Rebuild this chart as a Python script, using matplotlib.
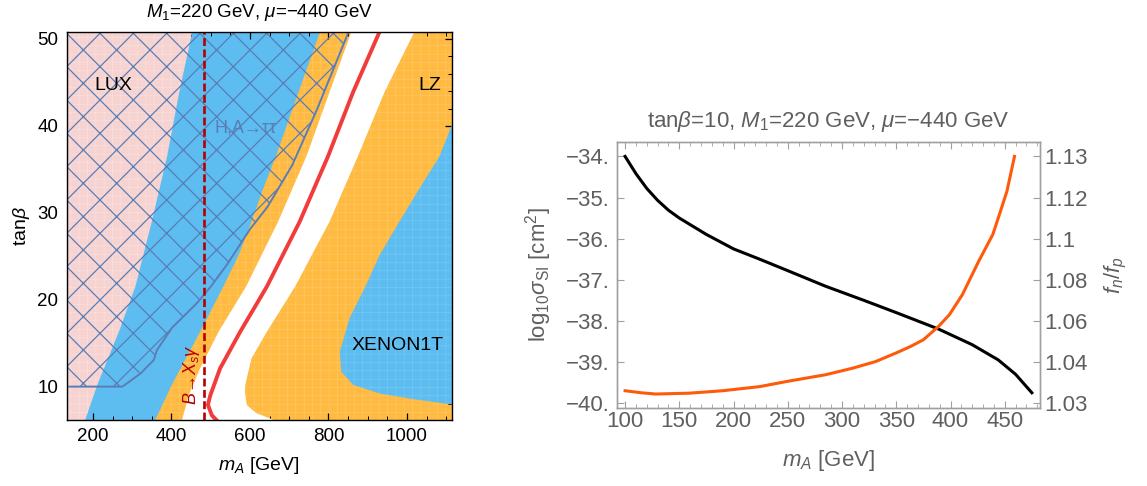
import numpy as np
import matplotlib
matplotlib.use("Agg")
import matplotlib.pyplot as plt
from matplotlib.ticker import MultipleLocator, FixedLocator

plt.rcParams["font.family"] = ["Liberation Sans", "DejaVu Sans"]
plt.rcParams["mathtext.fontset"] = "custom"
plt.rcParams["mathtext.rm"] = "Liberation Sans"
plt.rcParams["mathtext.it"] = "Liberation Sans:italic"
plt.rcParams["mathtext.bf"] = "Liberation Sans:bold"

# ---- left panel: region boundaries in the (m_A [GeV], tan beta) plane ----
luxTanb = [6.0, 10.2, 16.3, 21.5, 29.0, 36.5, 43.9, 51.0]
luxMa = [179, 211, 266, 308, 350, 389, 420, 454]

orangeLeftTanb = [6.0, 10.2, 16.3, 21.5, 25.1, 29.0, 32.8, 36.5, 43.9, 51.0]
orangeLeftMa = [357, 401, 473, 532, 571, 604, 634, 666, 724, 780]

whiteLeftTanb = [6.0, 9.0, 12.1, 16.3, 21.5, 29.0, 36.5, 43.9, 51.0]
whiteLeftMa = [426, 444, 473, 520, 590, 672, 744, 803, 860]

whiteRightTanb = [6.0, 6.35, 6.93, 7.88, 9.4, 10.2, 13.25, 16.3, 21.5, 29.0, 36.5, 43.9, 51.0]
whiteRightMa = [668, 651, 617, 592, 587, 588, 604, 643, 715, 803, 875, 943, 1021]

relicTanb = [6.0, 6.7, 7.9, 9.0, 12.1, 16.3, 21.5, 29.0, 36.5, 43.9, 51.0]
relicMa = [518, 503, 493, 499, 524, 575, 643, 727, 799, 863, 932]

xenonTanb = [7.6, 7.88, 8.57, 9.22, 10.2, 11.7, 14.0, 17.9, 21.5, 25.1, 29.0, 32.8, 36.5, 40.5, 43.0]
xenonMa = [1170, 1125, 1015, 930, 863, 833, 829, 854, 894, 930, 981, 1032, 1083, 1118, 1160]

hatchTanb = [10, 10, 11.5, 13.06, 14.2, 16.8, 19.6, 21.5, 24.0, 28.1, 30.7, 35.5, 41.8, 51.0]
hatchMa = [100, 275, 321, 355, 363, 402, 465, 500, 541, 600, 645, 708, 770, 853]

bsgMa = 484

# ---- right panel: tan beta = 10 slice ----
sigmaMa = [100, 110, 120, 130, 140, 150, 175, 200, 224, 250, 285, 320, 350, 389, 420,
           444, 460, 475]
logSigma = [-34.0, -34.42, -34.78, -35.07, -35.31, -35.5, -35.9, -36.25, -36.5, -36.78,
            -37.16, -37.5, -37.8, -38.2, -38.58, -38.95, -39.3, -39.75]

ratioMa = [100, 115, 128, 159, 190, 224, 250, 285, 310, 331, 350, 363, 375, 389, 399,
           411, 426, 439, 444, 452, 459]
fnOverFp = [1.033, 1.0325, 1.0322, 1.0324, 1.033, 1.034, 1.0353, 1.0369, 1.0385, 1.0402,
            1.0444, 1.0475, 1.0508, 1.0573, 1.063, 1.0728, 1.089, 1.102, 1.11, 1.1215, 1.13]

# right axis labels sit at the left-axis tick heights
leftTicks = [-40, -39, -38, -37, -36, -35, -34]
rightTickVals = [1.03, 1.04, 1.06, 1.08, 1.1, 1.12, 1.13]
rightTickLabels = ["1.03", "1.04", "1.06", "1.08", "1.1", "1.12", "1.13"]

pinkCol = "#f6d3d0"
blueCol = "#5dbdf0"
orangeCol = "#ffba42"
hatchCol = "#5b7db6"
relicCol = "#f23c3c"
bsgCol = "#b30000"
greyText = "#5f5f5f"
greyFrame = "#a0a0a0"


def addTexture(patch, colour):
    # faint mesh texture seen in the filled regions
    patch.set_hatch("++")
    patch.set_edgecolor(colour)
    patch.set_linewidth(0)
    if hasattr(patch, "set_hatch_linewidth"):
        patch.set_hatch_linewidth(0.4)


def drawLeft(ax):
    ax.set_facecolor(blueCol)

    orange = ax.fill_betweenx(orangeLeftTanb, orangeLeftMa, 1300, color=orangeCol, lw=0, zorder=1)
    xenon = ax.fill_betweenx(xenonTanb, xenonMa, 1300, color=blueCol, lw=0, zorder=2)
    ax.fill(whiteLeftMa + whiteRightMa[::-1], whiteLeftTanb + whiteRightTanb[::-1],
            color="white", lw=0, zorder=3)
    pink = ax.fill_betweenx(luxTanb, 0, luxMa, color=pinkCol, lw=0, zorder=3)
    addTexture(orange, (1, 1, 1, 0.22))
    addTexture(xenon, (1, 1, 1, 0.18))
    addTexture(pink, (1, 1, 1, 0.35))

    with plt.rc_context({"hatch.linewidth": 0.9}):
        hatched = ax.fill_betweenx(hatchTanb, 0, hatchMa, facecolor="none",
                                   edgecolor=hatchCol, hatch="x", lw=0, zorder=4)
        if hasattr(hatched, "set_hatch_linewidth"):
            hatched.set_hatch_linewidth(0.9)
    ax.plot(hatchMa, hatchTanb, color=hatchCol, lw=1.4, zorder=5)

    ax.plot(relicMa, relicTanb, color=relicCol, lw=2.8, zorder=6, solid_capstyle="butt")
    ax.axvline(bsgMa, color=bsgCol, lw=1.9, dashes=(3, 1.3), zorder=7)

    ax.text(251, 44.13, "LUX", fontsize=14, ha="center", va="baseline", zorder=8)
    ax.text(1058, 44.13, "LZ", fontsize=14, ha="center", va="baseline", zorder=8)
    ax.text(977, 14.2, "XENON1T", fontsize=14, ha="center", va="baseline", zorder=8)
    ax.text(588, 39.22, "H,A→ττ", fontsize=13, color=hatchCol, ha="center",
            va="baseline", zorder=8)
    ax.text(452, 11.33, "B→X$_s$γ", fontsize=13, color=bsgCol, rotation=90,
            style="italic", ha="center", va="center", zorder=8)

    ax.set_xlim(133, 1115)
    ax.set_ylim(6.16, 50.84)
    ax.xaxis.set_major_locator(MultipleLocator(200))
    ax.xaxis.set_minor_locator(MultipleLocator(50))
    ax.yaxis.set_major_locator(MultipleLocator(10))
    ax.yaxis.set_minor_locator(MultipleLocator(2))
    ax.tick_params(which="both", direction="in", top=True, right=True, labelsize=13.5)
    ax.tick_params(axis="x", which="major", pad=5.8)
    ax.tick_params(axis="y", which="major", pad=6)
    ax.tick_params(which="major", length=5, width=0.9)
    ax.tick_params(which="minor", length=3, width=0.7)
    for spine in ax.spines.values():
        spine.set_zorder(10)
        spine.set_linewidth(1.0)

    ax.set_title("$M_1$=220 GeV, $\\mu$=\u2212440 GeV", fontsize=13.5, pad=10.4)
    ax.set_xlabel("$m_A$ [GeV]", fontsize=14, labelpad=7)
    ax.set_ylabel("tan$\\beta$", fontsize=14, labelpad=4)


def drawRight(ax):
    ax.plot(sigmaMa, logSigma, color="black", lw=2.2, zorder=3)
    ax.set_xlim(92.5, 482.5)
    ax.set_ylim(-40.12, -33.65)
    ax.xaxis.set_major_locator(MultipleLocator(50))
    ax.xaxis.set_minor_locator(MultipleLocator(10))
    ax.yaxis.set_major_locator(FixedLocator(leftTicks))
    ax.set_yticklabels([f"\u2212{abs(t)}." for t in leftTicks])

    pos = [-41] + leftTicks + [-33]
    vals = [1.02] + rightTickVals + [1.14]

    def forward(f):
        return np.interp(f, vals, pos)

    def inverse(p):
        return np.interp(p, pos, vals)

    twin = ax.twinx()
    twin.set_yscale("function", functions=(forward, inverse))
    twin.set_ylim(inverse(-40.12), inverse(-33.65))
    twin.plot(ratioMa, fnOverFp, color="#ff5a0a", lw=2.2, zorder=3)
    twin.yaxis.set_major_locator(FixedLocator(rightTickVals))
    twin.yaxis.set_minor_locator(FixedLocator([]))
    twin.set_yticklabels(rightTickLabels)

    for a in (ax, twin):
        for spine in a.spines.values():
            spine.set_color(greyFrame)
            spine.set_linewidth(1.0)
        a.tick_params(which="both", direction="in", colors=greyFrame, labelcolor=greyText,
                      labelsize=16)
        a.tick_params(which="major", length=5)
        a.tick_params(which="minor", length=3)
    ax.tick_params(axis="x", which="both", top=True, pad=2.5)
    ax.tick_params(axis="y", pad=5)
    twin.tick_params(axis="y", pad=3)

    ax.set_title("tan$\\beta$=10, $M_1$=220 GeV, $\\mu$=\u2212440 GeV", fontsize=16,
                 color=greyText, pad=11)
    ax.set_xlabel("$m_A$ [GeV]", fontsize=16, color=greyText, labelpad=11)
    ax.set_ylabel("log$_{10}\\sigma_{\\rm SI}$ [cm$^2$]", fontsize=16, color=greyText,
                  labelpad=9)
    twin.set_ylabel("$f_n/f_p$", fontsize=16, color=greyText, labelpad=11)


def main():
    fig = plt.figure(figsize=(11.47, 4.86), dpi=100)
    axLeft = fig.add_axes([0.0581, 0.1358, 0.336, 0.799])
    axRight = fig.add_axes([0.5379, 0.1605, 0.3688, 0.5473])
    drawLeft(axLeft)
    drawRight(axRight)
    fig.savefig("out.png", dpi=100)


if __name__ == "__main__":
    main()
